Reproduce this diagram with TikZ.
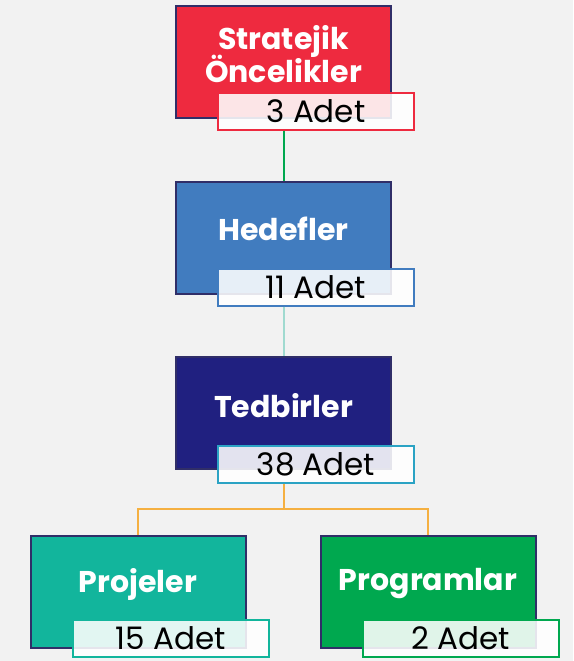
\documentclass[tikz,border=0pt]{standalone}
\usepackage{fontspec}
\setmainfont{Poppins}
\usetikzlibrary{positioning}
\definecolor{mybg}{RGB}{242,242,242}
\definecolor{mynavy}{RGB}{48,46,104}
\definecolor{myred}{RGB}{238,42,63}
\definecolor{myblue}{RGB}{65,124,191}
\definecolor{mydarkblue}{RGB}{32,32,128}
\definecolor{mycyan}{RGB}{43,163,196}
\definecolor{myteal}{RGB}{18,181,156}
\definecolor{mygreen}{RGB}{0,168,79}
\definecolor{myorange}{RGB}{245,176,65}
\definecolor{mymint}{RGB}{160,218,208}
\begin{document}
\begin{tikzpicture}[
  x=1pt,y=-1pt,
  mybox/.style={
    draw=mynavy,
    line width=2pt,
    fill=#1,
    minimum width=215pt,
    minimum height=112pt,
    inner sep=0pt
    },
  mytitle/.style={
    text=white,
    align=center,
    font=\bfseries\fontsize{30}{36}\selectfont
    },
  mylabel/.style={
    draw=#1,
    line width=2pt,
    fill=white,
    fill opacity=0.88,
    text opacity=1,
    minimum width=196pt,
    minimum height=37pt,
    inner sep=0pt,
    font=\fontsize{31}{36}\selectfont
    },
  myline/.style={
    draw=#1,
    line width=2pt
  }
]
\fill[mybg] (0,0) rectangle (573,661);
\useasboundingbox (0,0) rectangle (573,661);

% boxes
\node[mybox=myred] (oncelik) at (283.5,62) {};
\node[mybox=myblue] (hedef) at (283.5,238) {};
\node[mybox=mydarkblue] (tedbir) at (283.5,413) {};
\node[mybox=myteal] (proje) at (138,592) {};
\node[mybox=mygreen] (program) at (428,592) {};

% titles
\node[mytitle] (oncelikad) at ([yshift=8pt]oncelik.center) {Stratejik\\[-3pt]Öncelikler};
\node[mytitle] (hedefad) at ([yshift=9pt]hedef.center) {Hedefler};
\node[mytitle] (tedbirad) at ([yshift=7pt]tedbir.center) {Tedbirler};
\node[mytitle] (projead) at ([yshift=8pt]proje.center) {Projeler};
\node[mytitle] (programad) at ([yshift=8pt]program.center) {Programlar};

% counts
\node[mylabel=myred] (oncelikn) at ([xshift=32.5pt,yshift=-49pt]oncelik.center) {3 Adet};
\node[mylabel=myblue] (hedefn) at ([xshift=32.5pt,yshift=-49pt]hedef.center) {11 Adet};
\node[mylabel=mycyan] (tedbirn) at ([xshift=32.5pt,yshift=-51pt]tedbir.center) {38 Adet};
\node[mylabel=myteal] (projen) at ([xshift=33pt,yshift=-46pt]proje.center) {15 Adet};
\node[mylabel=mygreen] (programn) at ([xshift=33pt,yshift=-46pt]program.center) {2 Adet};

% connectors
\draw[myline=mygreen] (oncelik.center |- oncelikn.south) -- (hedef.north);
\draw[myline=mymint] (hedef.center |- hedefn.south) -- (tedbir.north);
\draw[myline=myorange] (tedbir.center |- tedbirn.south) -- ++(0,25) coordinate (catal) -| (proje.north);
\draw[myline=myorange] (catal) -| (program.north);
\end{tikzpicture}
\end{document}
